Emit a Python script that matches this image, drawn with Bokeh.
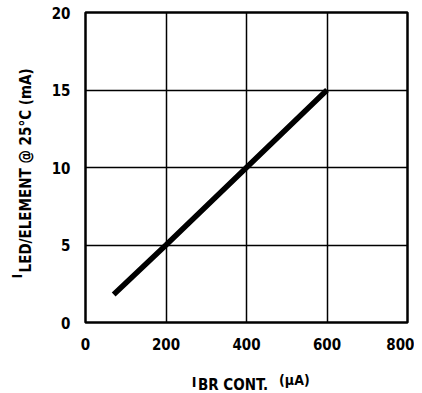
import math
from bokeh.plotting import figure
from bokeh.models import Range1d, FixedTicker, Label
from bokeh.embed import file_html
from bokeh.resources import INLINE

# data
i_br = [70, 200, 400, 600]          # uA
i_led = [1.8, 5.0, 10.0, 15.0]      # mA
x_ticks = [0, 200, 400, 600, 800]
y_ticks = [0, 5, 10, 15, 20]

FONT = "DejaVu Sans Condensed"

p = figure(width=414, height=392, output_backend="svg", toolbar_location=None,
           x_range=Range1d(0, 800), y_range=Range1d(0, 20),
           min_border_left=85, min_border_right=7, min_border_top=12, min_border_bottom=70)
p.background_fill_color = "white"
p.border_fill_color = "white"
p.outline_line_color = "black"
p.outline_line_width = 2.5

for ax in (p.xaxis[0], p.yaxis[0]):
    ax.axis_line_color = None
    ax.major_tick_line_color = None
    ax.minor_tick_line_color = None
    ax.major_tick_out = 0
    ax.major_tick_in = 0
    ax.minor_tick_out = 0
    ax.minor_tick_in = 0
    ax.major_label_text_font = FONT
    ax.major_label_text_font_style = "bold"
    ax.major_label_text_font_size = "15px"
    ax.major_label_text_color = "black"
p.xaxis.ticker = FixedTicker(ticks=x_ticks)
p.yaxis.ticker = FixedTicker(ticks=y_ticks)
p.xaxis.major_label_standoff = 15
p.yaxis.major_label_standoff = 15

p.xgrid.ticker = FixedTicker(ticks=x_ticks)
p.ygrid.ticker = FixedTicker(ticks=y_ticks)
for g in (p.xgrid[0], p.ygrid[0]):
    g.grid_line_color = "black"
    g.grid_line_width = 1.5
    g.grid_line_alpha = 1.0

p.line(i_br, i_led, line_color="black", line_width=5.5, line_cap="butt")

def lab(x, y, text, size, side, angle=0.0):
    # positions in data units of the plot scales (labels sit outside the frame)
    p.add_layout(Label(x=x, y=y, text=text, x_units="data", y_units="data",
                       text_font=FONT, text_font_style="bold",
                       text_font_size=size, text_color="black", angle=angle,
                       text_baseline="alphabetic", text_align="left"), side)

# y axis label: I_LED/ELEMENT @ 25°C (mA)
lab(-146.6, 3.23, "LED/ELEMENT @ 25\u00b0C (mA)", "15px", "left", math.pi / 2)
lab(-171.0, 2.84, "I", "14px", "below", math.pi / 2)

# x axis label: I_BR CONT. (uA)
lab(264.0, -3.87, "I", "14px", "left")
lab(279.5, -4.06, "BR CONT.", "15px", "below")
lab(481.0, -3.74, "(\u03bcA)", "14px", "below")

open("out.html", "w").write(file_html(p, INLINE))
